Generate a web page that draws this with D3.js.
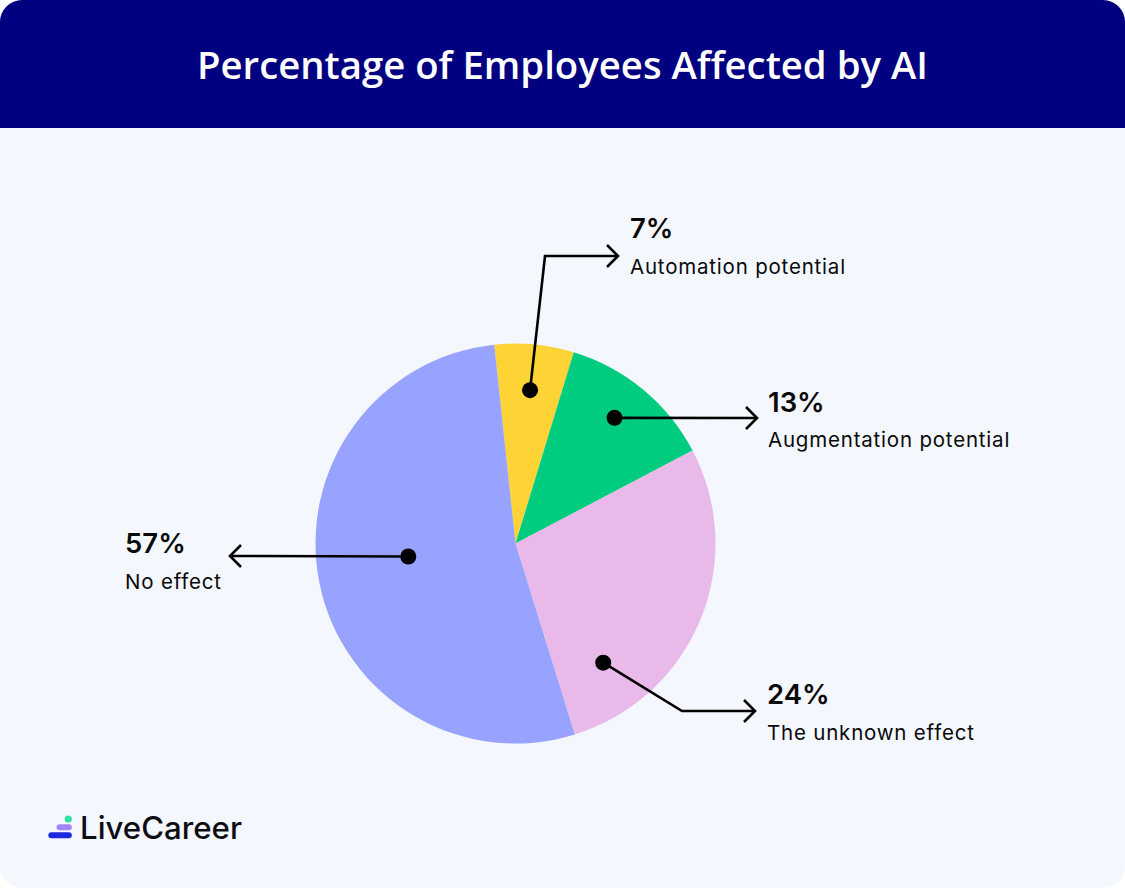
<!DOCTYPE html>
<html>
<head>
<meta charset="utf-8">
<script src="https://cdn.jsdelivr.net/npm/d3@7"></script>
<style>
  html, body { margin: 0; padding: 0; background: #ffffff; }
  svg { display: block; }
</style>
</head>
<body>
<div id="chart"></div>
<script>
const width = 1125;
const height = 888;

// data, clockwise from the top
const categories = ["Automation potential", "Augmentation potential", "The unknown effect", "No effect"];
const percentLabels = ["7%", "13%", "24%", "57%"];
// slice sizes as drawn in the picture (share of the circle, %)
const sliceShares = [6.4, 12.6, 27.9, 53.1];
const colors = ["#FDD335", "#00CC7F", "#E8B9E9", "#97A3FE"];

// callout layout: where the dot sits inside the slice (fraction of the slice angle, fraction of radius),
// the bend of the leader, the arrow tip and the text anchor
const callouts = [
    { at: [0.5, 0.77], bend: [545, 256], tip: [618, 256], text: [630, 238, 274], dir: 1 },
    { at: [0.47, 0.8], bend: null, tip: [757, 418], text: [768, 412, 447], dir: 1 },
    { at: [0.81, 0.74], bend: [682, 711], tip: [755, 711], text: [767, 704, 740], dir: 1 },
    { at: [0.525, 0.54], bend: null, tip: [230, 556], text: [125, 553, 589], dir: -1 }
];

const cx = 515.5, cy = 543.5, radius = 200;
const startDeg = -6.1;

const svg = d3.select("#chart").append("svg")
    .attr("width", width)
    .attr("height", height);

// card with rounded corners
const clip = svg.append("defs").append("clipPath").attr("id", "card");
clip.append("rect").attr("width", width).attr("height", height).attr("rx", 22);

const card = svg.append("g").attr("clip-path", "url(#card)");
card.append("rect").attr("width", width).attr("height", height).attr("fill", "#F4F7FE");
card.append("rect").attr("width", width).attr("height", 128).attr("fill", "#000080");

svg.append("text")
    .attr("x", width / 2)
    .attr("y", 79)
    .attr("text-anchor", "middle")
    .attr("fill", "#ffffff")
    .attr("font-family", "'Open Sans', sans-serif")
    .attr("font-weight", 600)
    .attr("font-size", 38)
    .attr("textLength", 731)
    .attr("lengthAdjust", "spacingAndGlyphs")
    .text("Percentage of Employees Affected by AI");

// pie
const start = startDeg * Math.PI / 180;
const pie = d3.pie().sort(null).value(d => d).startAngle(start).endAngle(start + 2 * Math.PI);
const arcs = pie(sliceShares);
const arc = d3.arc().innerRadius(0).outerRadius(radius);

const g = svg.append("g").attr("transform", `translate(${cx},${cy})`);
g.selectAll(".slice")
    .data(arcs)
    .enter()
    .append("path")
    .attr("class", "slice")
    .attr("d", arc)
    .attr("fill", (d, i) => colors[i]);

// callouts
const dots = arcs.map((d, i) => {
    const c = callouts[i];
    const a = d.startAngle + (d.endAngle - d.startAngle) * c.at[0];
    const r = radius * c.at[1];
    return [cx + r * Math.sin(a), cy - r * Math.cos(a)];
});

const ann = svg.append("g");
ann.selectAll(".leader")
    .data(callouts)
    .enter()
    .append("path")
    .attr("class", "leader")
    .attr("d", (c, i) => {
        const p = d3.path();
        p.moveTo(dots[i][0], dots[i][1]);
        if (c.bend) p.lineTo(c.bend[0], c.bend[1]);
        p.lineTo(c.tip[0], c.tip[1]);
        return p.toString();
    })
    .attr("fill", "none")
    .attr("stroke", "#000")
    .attr("stroke-width", 2.6);

ann.selectAll(".arrow")
    .data(callouts)
    .enter()
    .append("path")
    .attr("class", "arrow")
    .attr("d", c => {
        const x = c.tip[0], y = c.tip[1], s = 11 * c.dir;
        return `M${x - s},${y - 11}L${x},${y}L${x - s},${y + 11}`;
    })
    .attr("fill", "none")
    .attr("stroke", "#000")
    .attr("stroke-width", 2.6)
    .attr("stroke-linejoin", "miter");

ann.selectAll(".dot")
    .data(dots)
    .enter()
    .append("circle")
    .attr("class", "dot")
    .attr("cx", d => d[0])
    .attr("cy", d => d[1])
    .attr("r", 8)
    .attr("fill", "#000");

ann.selectAll(".pct")
    .data(callouts)
    .enter()
    .append("text")
    .attr("class", "pct")
    .attr("x", c => c.text[0])
    .attr("y", c => c.text[1])
    .attr("font-family", "Inter, sans-serif")
    .attr("font-weight", 600)
    .attr("font-size", 27.5)
    .attr("fill", "#0a0a0a")
    .text((c, i) => percentLabels[i]);

ann.selectAll(".cat")
    .data(callouts)
    .enter()
    .append("text")
    .attr("class", "cat")
    .attr("x", c => c.text[0])
    .attr("y", c => c.text[2])
    .attr("font-family", "Inter, sans-serif")
    .attr("font-weight", 400)
    .attr("font-size", 20.5)
    .attr("letter-spacing", 0.8)
    .attr("fill", "#0a0a0a")
    .text((c, i) => categories[i]);

// logo
const logo = svg.append("g");
logo.append("circle").attr("cx", 68.3).attr("cy", 819).attr("r", 3.6).attr("fill", "#2EE59D");
logo.append("rect").attr("x", 56.5).attr("y", 824.3).attr("width", 15.3).attr("height", 6).attr("rx", 3).attr("fill", "#A585F5");
logo.append("rect").attr("x", 48.3).attr("y", 832.3).attr("width", 23.5).attr("height", 6).attr("rx", 3).attr("fill", "#1E2AE0");
logo.append("text")
    .attr("x", 80)
    .attr("y", 839)
    .attr("font-family", "Inter, sans-serif")
    .attr("font-weight", 500)
    .attr("font-size", 31)
    .attr("fill", "#0d0d14")
    .attr("textLength", 162)
    .attr("lengthAdjust", "spacingAndGlyphs")
    .text("LiveCareer");
</script>
</body>
</html>
